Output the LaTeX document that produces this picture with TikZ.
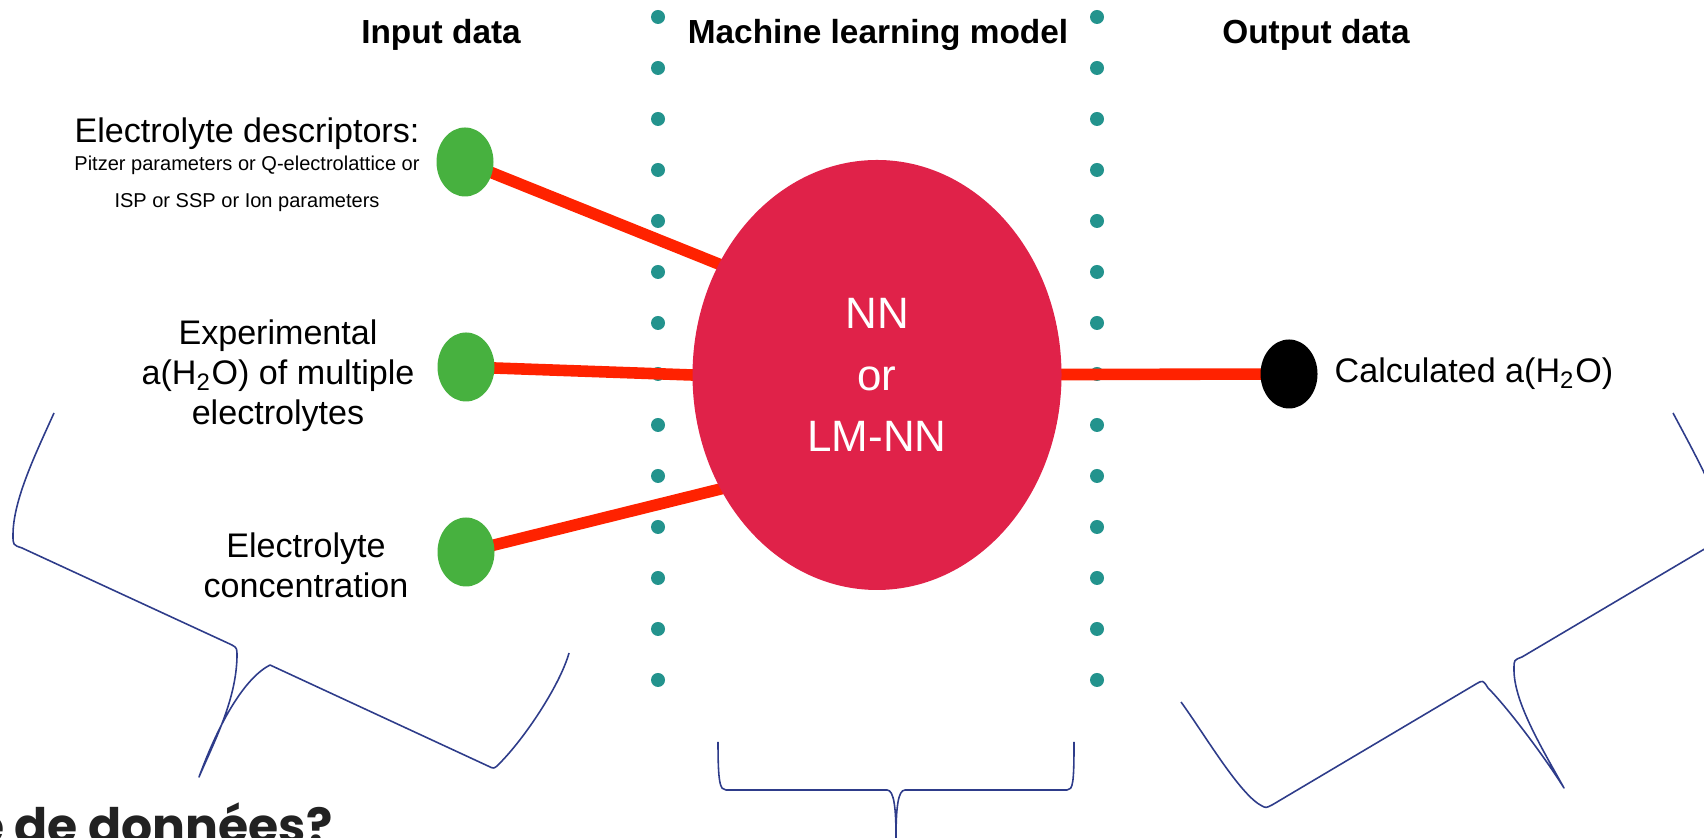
\documentclass[tikz,border=0pt]{standalone}
\usepackage{fontspec}
\setmainfont{Liberation Sans}
\newfontfamily\popfont{Poppins}
\usetikzlibrary{shapes,backgrounds}

\definecolor{dotteal}{RGB}{35,147,141}
\definecolor{nncrimson}{RGB}{224,34,73}
\definecolor{ingreen}{RGB}{71,177,63}
\definecolor{linkred}{RGB}{255,34,0}
\definecolor{bracenavy}{RGB}{46,60,138}

\begin{document}
\begin{tikzpicture}[font=\fontsize{9.7}{11.4}\selectfont,   % body text
                    inner sep=0pt,
                    header/.style={font=\fontsize{9.5}{11}\selectfont\bfseries, anchor=base},
                    indot/.style={ellipse, fill=ingreen, minimum width=0.57cm, minimum height=0.69cm},
                    link/.style={linkred, line width=3.3pt, shorten >=-0.2cm},
                    brace/.style={bracenavy, line width=0.45pt, line join=round}
                    ]

\useasboundingbox (0,0) rectangle (17.04,8.38);
\clip (0,0) rectangle (17.04,8.38);

% Headers
\node[header] (hin)  at (4.41,7.94) {Input data};
\node[header] (hml)  at (8.78,7.94) {Machine learning model};
\node[header] (hout) at (13.16,7.94) {Output data};

% Model
\node[ellipse, fill=nncrimson, minimum width=3.69cm, minimum height=4.30cm,
      text=white, align=center, font=\fontsize{12.5}{17.4}\selectfont] (nn) at (8.77,4.63) {NN\\or\\LM-NN};

% Inputs
\node[indot] (g1) at (4.65,6.76) {};
\node[indot] (g2) at (4.66,4.71) {};
\node[indot] (g3) at (4.66,2.86) {};

\node[anchor=base] (desc) at (2.47,6.95) {Electrolyte descriptors:};
\node[anchor=north, align=center, font=\fontsize{5.7}{10.5}\selectfont] (descsub) at (2.47,6.825)
     {Pitzer parameters or Q-electrolattice or\\ISP or SSP or Ion parameters};
\node[align=center] (exp) at (2.78,4.62) {Experimental\\a(H\textsubscript{2}O) of multiple\\electrolytes};
\node[align=center] (conc) at (3.06,2.73) {Electrolyte\\concentration};

% Output
\node[indot, fill=black] (out) at (12.89,4.64) {};
\node[anchor=base west] (calc) at (13.34,4.55) {Calculated a(H\textsubscript{2}O)};

% dotted separators and links
\begin{scope}[on background layer]
\foreach \k in {0,...,13}{
  \fill[dotteal] (6.58,8.21-0.51*\k) circle (0.07);
  \fill[dotteal] (10.97,8.21-0.51*\k) circle (0.07);
}
\draw[link] (g1.center) -- (nn.145);
\draw[link] (g2.center) -- (nn.180);
\draw[link] (g3.center) -- (nn.216);
\draw[link] (nn.center) -- (out.center);
\end{scope}

% Braces
\draw[brace] (0.54,4.25) .. controls (0.36,3.85) and (0.13,3.38) .. (0.13,3.03)
  .. controls (0.13,2.93) .. (0.22,2.90) -- (2.32,1.93)
  .. controls (2.37,1.90) .. (2.37,1.81) .. controls (2.36,1.38) and (2.15,0.98) .. (1.99,0.61)
  .. controls (2.20,1.18) and (2.45,1.60) .. (2.70,1.73) -- (4.88,0.72)
  .. controls (4.94,0.69) .. (4.99,0.74) .. controls (5.25,1.00) and (5.60,1.53) .. (5.69,1.85);

\draw[brace] (7.18,0.96) .. controls (7.18,0.55) and (7.20,0.48) .. (7.26,0.48) -- (8.87,0.48)
  .. controls (8.94,0.48) and (8.96,0.30) .. (8.96,0)
  .. controls (8.96,0.30) and (8.98,0.48) .. (9.05,0.48) -- (10.67,0.48)
  .. controls (10.73,0.48) and (10.74,0.55) .. (10.74,0.96);

\draw[brace] (11.81,1.36) .. controls (12.05,1.03) and (12.40,0.43) .. (12.62,0.32)
  .. controls (12.66,0.30) .. (12.72,0.33) -- (14.76,1.54)
  .. controls (14.83,1.58) .. (14.88,1.50) .. controls (15.05,1.33) and (15.40,0.88) .. (15.64,0.50)
  .. controls (15.40,0.93) and (15.13,1.38) .. (15.14,1.70)
  .. controls (15.14,1.78) .. (15.22,1.81) -- (17.18,2.97)
  .. controls (17.28,3.03) .. (17.27,3.10) .. controls (17.15,3.48) and (16.90,3.93) .. (16.73,4.25);

% cut-off caption
\node[anchor=base east, font=\popfont\bfseries\fontsize{13.9}{16}\selectfont, text={rgb,255:red,34;green,34;blue,34}] (cap) at (3.33,-0.06) {e de données?};

\end{tikzpicture}
\end{document}
